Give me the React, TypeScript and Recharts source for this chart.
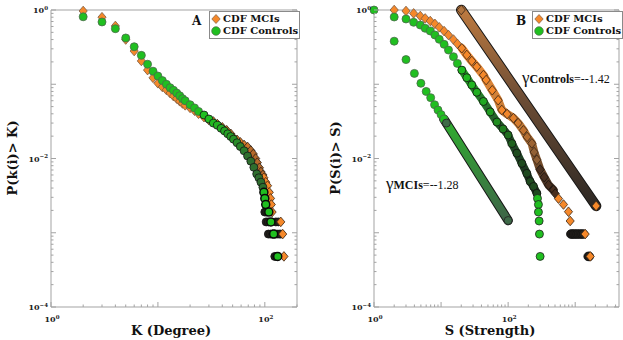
import React from 'react'
import { ScatterChart, Scatter, XAxis, YAxis, Legend } from 'recharts'

// Panel A - degree CDF
const degreeMciK = [2, 3, 4, 5, 6, 7, 8, 9, 10, 11, 12, 13, 14, 15, 16, 17, 18, 20, 22, 24, 27, 30, 33, 36, 40, 44, 48, 51, 55, 59, 64, 69, 74, 78, 82, 85, 89, 92, 96, 98, 102, 106, 110, 113, 115, 117, 141, 147, 151]
const degreeMciP = [0.97, 0.8, 0.61, 0.4, 0.28, 0.206, 0.155, 0.122, 0.103, 0.092, 0.084, 0.076, 0.069, 0.064, 0.059, 0.055, 0.052, 0.048, 0.044, 0.04, 0.036, 0.033, 0.0315, 0.029, 0.0263, 0.024, 0.0215, 0.019, 0.0178, 0.0165, 0.0152, 0.0143, 0.0128, 0.0115, 0.01, 0.0088, 0.0075, 0.0066, 0.006, 0.0055, 0.0048, 0.0043, 0.0035, 0.0029, 0.0024, 0.0019, 0.0014, 0.00096, 0.00048]
const degreeCtlK = [2, 3, 4, 5, 6, 7, 8, 9, 10, 11, 12, 13, 14, 15, 16, 17, 18, 20, 22, 24, 27, 30, 33, 36, 39, 42, 45, 48, 51, 55, 59, 64, 69, 74, 79, 84, 88, 92, 96, 98, 100, 102, 109, 114, 121, 132]
const degreeCtlP = [0.81, 0.69, 0.56, 0.42, 0.32, 0.245, 0.186, 0.15, 0.129, 0.112, 0.1, 0.09, 0.083, 0.076, 0.07, 0.064, 0.06, 0.053, 0.048, 0.043, 0.0385, 0.034, 0.03, 0.028, 0.0255, 0.0235, 0.0215, 0.0198, 0.0182, 0.0163, 0.0145, 0.0127, 0.0108, 0.0092, 0.0076, 0.0062, 0.0055, 0.0048, 0.0041, 0.0035, 0.0029, 0.0024, 0.0019, 0.0014, 0.00096, 0.00048]
// dark overlapping markers in the tail (ties)
const degreeTieK = [100, 104, 103, 108, 127, 134, 108, 113, 118, 124, 130, 136, 141, 124, 129]
const degreeTieP = [0.0019, 0.0019, 0.0014, 0.0014, 0.0014, 0.0014, 0.00096, 0.00096, 0.00096, 0.00096, 0.00096, 0.00096, 0.00096, 0.00048, 0.00048]

// Panel B - strength CDF
const strengthMciS = [2, 3, 3.9, 4.9, 5.8, 6.9, 8.1, 9.4, 11.1, 12.9, 15.3, 17.5, 20.4, 24.2, 28.7, 34.1, 42.8, 47, 58, 71, 80.5, 96.6, 120, 141, 169, 192, 226, 244, 268, 300, 345, 400, 474, 503, 563, 669, 794, 842, 1410, 1675]
const strengthMciP = [1, 0.97, 0.9, 0.83, 0.77, 0.71, 0.65, 0.585, 0.52, 0.46, 0.4, 0.35, 0.305, 0.248, 0.206, 0.172, 0.133, 0.114, 0.083, 0.061, 0.045, 0.0397, 0.035, 0.03, 0.024, 0.0195, 0.016, 0.0122, 0.0096, 0.0071, 0.0056, 0.0044, 0.00377, 0.00337, 0.00288, 0.0024, 0.00192, 0.00144, 0.00096, 0.00048]
const strengthCtlS = [2, 3, 3.9, 4.9, 5.8, 6.9, 8.1, 9.4, 11.1, 12.9, 15.3, 17.5, 20.4, 24.2, 28.7, 34.1, 42.8, 54, 68, 84, 100, 114, 135, 160, 190, 213, 239, 268, 274, 283, 283, 290, 293, 300]
const strengthCtlP = [0.805, 0.757, 0.683, 0.628, 0.567, 0.522, 0.461, 0.403, 0.345, 0.289, 0.235, 0.191, 0.155, 0.1225, 0.098, 0.078, 0.0586, 0.0424, 0.031, 0.025, 0.0207, 0.0159, 0.0118, 0.0086, 0.0063, 0.0049, 0.0042, 0.0034, 0.0029, 0.0024, 0.0019, 0.00144, 0.00096, 0.00048]
const strengthTieS = [860, 900, 950, 1000, 1060, 1120, 1190, 1260, 1330, 1560, 1620]
const strengthTieP = [0.00096, 0.00096, 0.00096, 0.00096, 0.00096, 0.00096, 0.00096, 0.00096, 0.00096, 0.00048, 0.00048]

// power-law fits in panel B
const fitLowS = [1, 2, 3, 4, 5, 6, 7, 8, 9, 10, 11, 12, 100]
const fitLowP = [1, 0.38, 0.215, 0.14, 0.103, 0.08, 0.066, 0.053, 0.045, 0.039, 0.034, 0.03, 0.00146]
const fitHighS = [20, 2050]
const fitHighP = [1, 0.0023]

const legendNames = ['CDF MCIs', 'CDF Controls']
const gammaMci = { sub: 'MCIs', val: '=--1.28' }
const gammaCtl = { sub: 'Controls', val: '=--1.42' }

const xLabelExps = [0, 2]
const yLabelExps = [0, -2, -4]

const AXIS = '#a3a3a3'
const ORANGE = '#f5882a'
const GREEN = '#20bf20'
const SERIF = '"DejaVu Serif", serif'

const zip = (xs: number[], ys: number[]) => xs.map((x, i) => ({ x, y: ys[i] }))

function rgb(c: string) {
  const n = parseInt(c.slice(1), 16)
  return [(n >> 16) & 255, (n >> 8) & 255, n & 255]
}
function mix(a: string, b: string, t: number) {
  const k = Math.max(0, Math.min(1, t))
  const A = rgb(a)
  const B = rgb(b)
  return `rgb(${A.map((v, i) => Math.round(v + (B[i] - v) * k)).join(',')})`
}

function logTicks(lo: number, hi: number) {
  const out: number[] = []
  for (let e = Math.round(Math.log10(lo)); e <= Math.ceil(Math.log10(hi)); e++) {
    for (let m = 1; m < 10; m++) {
      const v = m * Math.pow(10, e)
      if (v >= lo * 0.999 && v <= hi * 1.001) out.push(v)
    }
  }
  return out
}
const expOf = (v: number) => Math.round(Math.log10(v))
const isMajor = (v: number) => Math.abs(Math.log10(v) - expOf(v)) < 1e-6

function Pow({ x, y, e, anchor }: { x: number; y: number; e: number; anchor: string }) {
  return (
    <text x={x} y={y} textAnchor={anchor as any} fontFamily={SERIF} fontWeight="bold" fontSize={8} fill="#222">
      10
      <tspan dy={-3.5} fontSize={5.5}>{e < 0 ? `\u2212${-e}` : `${e}`}</tspan>
    </text>
  )
}

const makeTick = (side: string, exps: number[]) => (props: any) => {
  const { x, y, payload } = props
  const v = payload.value
  const major = isMajor(v)
  const len = major ? 5 : 2.5
  const labelled = major && exps.includes(expOf(v))
  if (side === 'bottom')
    return (
      <g>
        <line x1={x} x2={x} y1={y} y2={y - len} stroke={AXIS} />
        {labelled && <Pow x={x + 1} y={y + 15} e={expOf(v)} anchor="middle" />}
      </g>
    )
  if (side === 'top') return <line x1={x} x2={x} y1={y} y2={y + len} stroke={AXIS} />
  if (side === 'left')
    return (
      <g>
        <line x1={x} x2={x + len} y1={y} y2={y} stroke={AXIS} />
        {labelled && <Pow x={x - 3} y={y + 3} e={expOf(v)} anchor="end" />}
      </g>
    )
  return <line x1={x} x2={x - len} y1={y} y2={y} stroke={AXIS} />
}

// axes of 1px thickness (a 0px axis is not drawn); the margins below allow for that pixel
function axes(xDomain: number[], xTicks: number[]) {
  const yTicks = logTicks(1e-4, 1)
  const common = { type: 'number' as const, scale: 'log' as const, interval: 0, tickSize: 0, tickMargin: 0, tickLine: false, axisLine: { stroke: AXIS } }
  return [
    <XAxis key="xb" xAxisId="b" dataKey="x" domain={xDomain} ticks={xTicks} height={1} tick={makeTick('bottom', xLabelExps)} {...common} />,
    <XAxis key="xt" xAxisId="t" orientation="top" domain={xDomain} ticks={xTicks} height={1} allowDataOverflow tick={makeTick('top', [])} {...common} />,
    <YAxis key="yl" yAxisId="l" dataKey="y" domain={[1e-4, 1]} ticks={yTicks} width={1} tick={makeTick('left', yLabelExps)} {...common} />,
    <YAxis key="yr" yAxisId="r" orientation="right" domain={[1e-4, 1]} ticks={yTicks} width={1} allowDataOverflow tick={makeTick('right', [])} {...common} />
  ]
}

type Paint = (v: number) => [string, string, number?]

const diamond = (paint: Paint, r = 4.8) => (props: any) => {
  const { cx, cy, payload } = props
  const [fill, stroke, sw] = paint(payload.x)
  const w = r * 0.85
  return <polygon points={`${cx},${cy - r} ${cx + w},${cy} ${cx},${cy + r} ${cx - w},${cy}`} fill={fill} stroke={stroke} strokeWidth={sw ?? 0.8} />
}
const circle = (paint: Paint, r = 4) => (props: any) => {
  const { cx, cy, payload } = props
  const [fill, stroke, sw] = paint(payload.x)
  return <circle cx={cx} cy={cy} r={r} fill={fill} stroke={stroke} strokeWidth={sw ?? 0.8} />
}
const nothing = () => <g />

function LegendBox() {
  return (
    <div style={{ border: '1px solid #8a8a8a', background: '#fff', padding: '1px 1px 1px 1px', fontFamily: SERIF, fontWeight: 'bold', fontSize: 10, lineHeight: '12px', color: '#111', whiteSpace: 'nowrap' }}>
      {legendNames.map((name, i) => (
        <div key={name} style={{ display: 'flex', alignItems: 'center' }}>
          <svg width={10} height={10} style={{ marginRight: 2 }}>
            {i === 0 ? (
              <polygon points="5,0.5 9.2,5 5,9.5 0.8,5" fill={ORANGE} stroke="#7a5a40" strokeWidth={0.7} />
            ) : (
              <circle cx={5} cy={5} r={4.3} fill={GREEN} stroke="#4a6a4a" strokeWidth={0.7} />
            )}
          </svg>
          {name}
        </div>
      ))}
    </div>
  )
}

const darkPaint: Paint = () => ['#24201c', '#111']
const mciPaintA: Paint = (k) => {
  if (k >= 98) return [ORANGE, '#3a2614']
  return [k < 55 ? ORANGE : mix(ORANGE, '#b4692b', (k - 55) / 20), k < 30 ? '#7a5a40' : '#2a2016']
}
const ctlPaintA: Paint = (k) => {
  if (k >= 98) return [GREEN, '#0a0a0a', 1.5]
  return [k < 30 ? GREEN : mix(GREEN, '#2e6e2e', (k - 30) / 40), k < 25 ? '#4a6a4a' : '#151515']
}
const mciPaintB: Paint = (s) => {
  if (s > 520) return [ORANGE, '#3a2614']
  if (s >= 290) return ['#4a3020', '#1a1410']
  return [s < 90 ? ORANGE : mix(ORANGE, '#8e5e34', (s - 90) / 160), s < 20 ? '#7a5a40' : '#3a2616']
}
const ctlPaintB: Paint = (s) => {
  if (s >= 272) return [GREEN, '#222']
  return [s < 18 ? GREEN : mix(GREEN, '#1f4a1f', (s - 18) / 120), s < 18 ? '#4a6a4a' : '#111']
}
const fitLowPaint: Paint = (s) => [s < 12 ? GREEN : '#3e6a48', s < 12 ? '#4a6a4a' : '#222']
const fitHighPaint: Paint = (s) => (s > 1000 ? [ORANGE, '#3a2614'] : ['#b0743f', '#3a2616'])

function PanelA() {
  return (
    <ScatterChart width={310} height={340} margin={{ top: 9, right: 12, bottom: 32, left: 50 }}>
      {axes([1, 200], logTicks(1, 200))}
      <Scatter data={zip(degreeTieK, degreeTieP)} xAxisId="b" yAxisId="l" shape={circle(darkPaint)} isAnimationActive={false} legendType="none" />
      <Scatter name="CDF MCIs" data={zip(degreeMciK, degreeMciP)} xAxisId="b" yAxisId="l" shape={diamond(mciPaintA)} isAnimationActive={false} />
      <Scatter name="CDF Controls" data={zip(degreeCtlK, degreeCtlP)} xAxisId="b" yAxisId="l" shape={circle(ctlPaintA)} isAnimationActive={false} />
      <Legend layout="vertical" align="center" verticalAlign="middle" wrapperStyle={{ left: 209, top: 11, width: 'auto' }} content={() => <LegendBox />} />
    </ScatterChart>
  )
}

function PanelB() {
  const mci = zip(strengthMciS, strengthMciP)
  const ctl = zip(strengthCtlS, strengthCtlP)
  const low = zip(fitLowS, fitLowP)
  const high = zip(fitHighS, fitHighP)
  const band = (id: string, w: number) => ({ stroke: `url(#${id})`, strokeWidth: w, strokeLinecap: 'round', strokeLinejoin: 'round' })
  const edge = (w: number) => ({ stroke: '#161616', strokeWidth: w, strokeLinecap: 'round', strokeLinejoin: 'round' })
  return (
    <ScatterChart width={313} height={340} margin={{ top: 9, right: 3, bottom: 32, left: 63 }}>
      <defs>
        <linearGradient id="gHigh" x1="0" y1="0" x2="0" y2="1">
          <stop offset="0%" stopColor="#bd7a40" />
          <stop offset="45%" stopColor="#6d4d35" />
          <stop offset="100%" stopColor="#2d2824" />
        </linearGradient>
        <linearGradient id="gLow" x1="0" y1="0" x2="0" y2="1">
          <stop offset="0%" stopColor="#2fae2f" />
          <stop offset="100%" stopColor="#3e6448" />
        </linearGradient>
        <linearGradient id="gCtl" x1="0" y1="0" x2="0" y2="1">
          <stop offset="0%" stopColor="#2a9a2a" />
          <stop offset="50%" stopColor="#23502a" />
          <stop offset="100%" stopColor="#1a2a1a" />
        </linearGradient>
        <linearGradient id="gMci" x1="0" y1="0" x2="0" y2="1">
          <stop offset="0%" stopColor="#ee8a35" />
          <stop offset="55%" stopColor="#c07a38" />
          <stop offset="100%" stopColor="#3a2a20" />
        </linearGradient>
      </defs>
      {axes([1, 4500], logTicks(1, 4500))}
      <Scatter data={high} xAxisId="b" yAxisId="l" shape={nothing} line={edge(10.5)} isAnimationActive={false} legendType="none" />
      <Scatter data={high} xAxisId="b" yAxisId="l" shape={diamond(fitHighPaint)} line={band('gHigh', 8.5)} isAnimationActive={false} legendType="none" />
      <Scatter data={low.slice(10)} xAxisId="b" yAxisId="l" shape={nothing} line={edge(9.5)} isAnimationActive={false} legendType="none" />
      <Scatter data={low.slice(10)} xAxisId="b" yAxisId="l" shape={nothing} line={band('gLow', 7.5)} isAnimationActive={false} legendType="none" />
      <Scatter data={low} xAxisId="b" yAxisId="l" shape={circle(fitLowPaint)} isAnimationActive={false} legendType="none" />
      <Scatter data={zip(strengthTieS, strengthTieP)} xAxisId="b" yAxisId="l" shape={circle(darkPaint, 4.3)} isAnimationActive={false} legendType="none" />
      <Scatter data={mci.slice(12, 33)} xAxisId="b" yAxisId="l" shape={nothing} line={band('gMci', 8.5)} isAnimationActive={false} legendType="none" />
      <Scatter name="CDF MCIs" data={mci} xAxisId="b" yAxisId="l" shape={diamond(mciPaintB)} isAnimationActive={false} />
      <Scatter data={ctl.slice(12, 28)} xAxisId="b" yAxisId="l" shape={nothing} line={band('gCtl', 8)} isAnimationActive={false} legendType="none" />
      <Scatter name="CDF Controls" data={ctl} xAxisId="b" yAxisId="l" shape={circle(ctlPaintB)} isAnimationActive={false} />
      <Legend layout="vertical" align="center" verticalAlign="middle" wrapperStyle={{ left: 222, top: 11, width: 'auto' }} content={() => <LegendBox />} />
    </ScatterChart>
  )
}

export default function App() {
  const bold = { fontFamily: SERIF, fontWeight: 'bold' as const, fill: '#111' }
  return (
    <div style={{ position: 'absolute', left: 0, top: 0, width: 623, height: 340, background: '#fff', overflow: 'hidden' }}>
      <div style={{ position: 'absolute', left: 0, top: 0 }}>
        <PanelA />
      </div>
      <div style={{ position: 'absolute', left: 310, top: 0 }}>
        <PanelB />
      </div>
      <svg width={623} height={340} style={{ position: 'absolute', left: 0, top: 0, pointerEvents: 'none' }}>
        <text x={171} y={335} textAnchor="middle" fontSize={13} {...bold}>K (Degree)</text>
        <text x={490} y={335} textAnchor="middle" fontSize={13} {...bold}>S (Strength)</text>
        <text transform="translate(17,158) rotate(-90)" textAnchor="middle" fontSize={13} {...bold}>P(k(i)&gt; K)</text>
        <text transform="translate(340,158) rotate(-90)" textAnchor="middle" fontSize={13} {...bold}>P(S(i)&gt; S)</text>
        <text x={192} y={25} fontSize={12} {...bold}>A</text>
        <text x={516} y={25} fontSize={12} {...bold}>B</text>
        <text x={522} y={83} fontFamily="'Liberation Serif', serif" fill="#111">
          <tspan fontSize={17}>γ</tspan>
          <tspan fontSize={12} fontWeight="bold">{gammaCtl.sub}</tspan>
          <tspan fontSize={12}>{gammaCtl.val}</tspan>
        </text>
        <text x={386} y={189} fontFamily="'Liberation Serif', serif" fill="#111">
          <tspan fontSize={17}>γ</tspan>
          <tspan fontSize={12} fontWeight="bold">{gammaMci.sub}</tspan>
          <tspan fontSize={12}>{gammaMci.val}</tspan>
        </text>
      </svg>
    </div>
  )
}
